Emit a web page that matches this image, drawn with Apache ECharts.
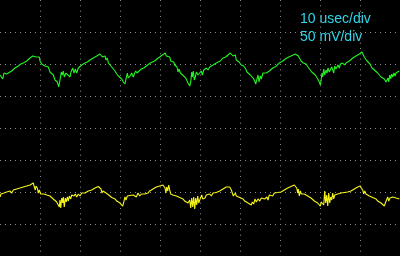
<!DOCTYPE html>
<html><head><meta charset="utf-8">
<style>html,body{margin:0;padding:0;background:#000;}#c{width:400px;height:256px;}</style>
<script src="https://cdn.jsdelivr.net/npm/echarts@6/dist/echarts.min.js"></script>
</head><body><div id="c"></div>
<script>
const timeBaseLabel = '10 usec/div';
const voltScaleLabel = '50 mV/div';

// Channel 1 (green), time in microseconds, amplitude in mV
const ch1TimeUs = [0,0.25,0.68,1.0,1.5,1.68,2.08,2.93,3.75,4.58,5.18,5.83,6.68,7.5,8.18,8.58,9.0,9.43,9.83,10.0,
10.43,10.83,11.25,11.68,12.08,12.5,12.93,13.33,13.75,14.33,14.68,15.0,15.33,15.58,15.83,16.08,16.5,16.93,17.5,17.75,
18.18,18.5,18.83,19.18,19.58,20.0,20.43,20.83,21.25,21.83,22.5,23.33,24.18,25.0,25.25,25.58,25.83,26.25,26.5,26.83,
27.08,27.5,27.93,28.33,28.75,29.18,29.58,30.0,30.43,30.83,31.25,31.5,31.83,32.08,32.5,32.93,33.33,33.68,33.93,34.25,
34.75,35.33,35.93,36.58,37.0,37.58,38.08,38.68,39.25,39.93,40.58,41.0,41.33,41.58,42.0,42.43,42.68,43.08,43.43,43.68,
43.93,44.25,44.5,44.75,45.08,45.58,45.93,46.43,46.75,47.0,47.43,47.68,47.93,48.08,48.33,48.58,48.83,49.08,49.5,49.93,
50.33,50.58,50.93,51.18,51.58,52.0,52.43,52.83,53.25,53.68,54.08,54.5,55.08,55.75,56.43,57.0,57.58,58.0,58.25,58.5,
58.83,59.08,59.5,59.75,60.08,60.33,60.58,60.93,61.43,61.75,62.25,62.58,63.08,63.43,63.68,63.93,64.25,64.5,64.75,65.08,
65.33,65.75,66.18,66.58,66.93,67.33,67.75,68.18,68.58,69.0,69.43,69.83,70.25,70.68,71.08,71.68,72.18,72.75,73.18,73.83,
74.18,74.58,74.83,75.25,75.5,75.83,76.25,76.5,76.68,76.93,77.18,77.5,77.93,78.33,78.83,79.18,79.43,79.83,80.08,80.25,
80.5,80.68,80.93,81.18,81.5,81.75,82.0,82.33,82.58,82.93,83.18,83.43,83.68,84.0,84.25,84.5,84.83,85.08,85.33,85.68,
86.08,86.5,86.93,87.33,87.75,88.18,88.58,89.0,89.43,89.83,90.25,90.5,90.83,91.08,91.33,91.5,91.75,91.93,92.18,92.5,
92.75,93.0,93.33,93.58,94.0,94.43,94.83,95.25,95.68,96.08,96.5,96.75,97.0,97.18,97.43,97.68,97.93,98.18,98.5,98.75,
99.0,99.43,99.83,100];
const ch1Mv = [82.8,85.9,76.6,85.9,87.5,84.4,87.5,89.1,93.75,96.9,100,101.6,104.7,109.4,112.5,114.1,110.9,107.8,110.9,104.7,
100,101.6,96.9,98.4,95.3,87.5,85.9,82.8,75,71.9,64.1,75,87.5,82.8,89.1,79.7,85.9,82.8,79.7,87.5,
93.75,85.9,92.2,85.9,93.75,95.3,98.4,100,101.6,103.1,106.25,109.4,112.5,115.6,117.2,110.9,107.8,112.5,106.25,109.4,
101.6,100.8,95.3,92.2,89.1,84.4,81.25,79.7,76.6,71.9,68.75,76.6,85.9,78.1,81.25,85.9,79.7,85.9,89.1,85.9,
87.5,92.2,93.75,96.9,100,101.6,103.1,104.7,107.8,110.9,114.1,115.6,117.2,112.5,109.4,110.9,104.7,101.6,103.1,98.4,
100,95.3,87.5,92.2,85.9,84.4,81.25,78.1,75,70.3,65.6,71.9,87.5,79.7,89.1,75,79.7,87.5,82.8,85.9,
89.1,82.8,90.6,87.5,93.75,90.6,95.3,93.75,98.4,100,101.6,103.1,104.7,109.4,110.9,114.1,117.2,118.75,112.5,109.4,
114.1,106.25,107.8,103.1,101.6,98.4,95.3,96.9,92.2,87.5,85.9,82.8,79.7,76.6,73.4,68.75,76.6,82.8,71.9,81.25,
76.6,85.9,82.8,85.9,87.5,89.1,92.2,93.75,95.3,96.1,98.4,101.6,102.3,104.7,106.25,109.4,110.9,112.5,114.1,115.6,
117.2,112.5,109.4,104.7,107.8,101.6,103.1,100,96.9,100,93.75,92.2,87.5,85.9,82.8,79.7,76.6,71.9,67.2,73.4,
85.9,79.7,92.2,82.8,90.6,85.9,93.75,87.5,85.9,95.3,90.6,85.9,96.9,92.2,95.3,98.4,93.75,100,96.9,101.6,
98.4,101.6,103.1,104.7,107.8,109.4,110.9,112.5,114.1,115.6,117.2,118.75,114.1,110.9,107.8,109.4,104.7,101.6,103.1,100,
96.9,93.75,95.3,90.6,87.5,85.9,82.8,79.7,78.9,76.6,71.9,70.3,78.1,71.9,82.8,76.6,84.4,79.7,85.9,81.25,
85.9,87.5,89.1,89.1];

// Channel 2 (yellow), time in microseconds, amplitude in mV
const ch2TimeUs = [0,0.25,0.68,1.0,1.33,1.68,2.08,2.5,2.93,3.33,3.75,4.18,4.58,5.0,5.43,5.83,6.25,6.68,7.08,7.5,
7.93,8.33,8.58,8.83,9.0,9.33,9.58,9.83,10.18,10.43,10.68,11.0,11.68,12.08,12.5,12.93,13.33,13.75,14.18,14.43,
14.68,14.83,15.0,15.18,15.43,15.68,15.83,16.08,16.33,16.58,16.83,17.08,17.33,17.68,17.93,18.18,18.5,18.83,19.18,19.58,
20.0,20.43,20.83,21.25,21.68,22.08,22.5,22.93,23.33,23.75,24.18,24.58,25.0,25.25,25.5,25.75,26.08,26.5,26.83,27.18,
27.5,27.93,28.33,28.75,29.18,29.58,30.0,30.43,30.68,31.0,31.25,31.5,31.83,32.18,32.5,32.93,33.33,33.68,34.08,34.5,
34.93,35.33,35.75,36.18,36.58,37.0,37.43,37.83,38.25,38.68,39.08,39.5,39.93,40.33,40.75,41.0,41.25,41.5,41.68,41.93,
42.18,42.43,42.68,42.93,43.25,43.68,44.08,44.5,44.93,45.33,45.75,46.18,46.58,47.0,47.43,47.68,47.93,48.18,48.43,48.68,
48.93,49.18,49.43,49.68,49.93,50.18,50.43,50.68,50.93,51.25,51.58,52.0,52.43,52.83,53.25,53.68,54.08,54.5,54.93,55.33,
55.75,56.18,56.58,57.0,57.43,57.83,58.08,58.33,58.58,58.83,59.08,59.5,59.93,60.33,60.75,61.18,61.58,62.0,62.43,62.83,
63.08,63.43,63.75,64.08,64.5,64.93,65.33,65.75,66.18,66.58,66.75,67.0,67.33,67.58,67.83,68.18,68.58,69.0,69.43,69.83,
70.25,70.68,71.08,71.5,71.93,72.33,72.75,73.18,73.58,73.83,74.18,74.43,74.58,74.83,75.08,75.33,75.68,76.08,76.5,76.93,
77.33,77.75,78.18,78.58,79.0,79.43,79.83,80.08,80.33,80.68,80.93,81.18,81.43,81.68,81.93,82.18,82.43,82.68,82.93,83.18,
83.43,83.68,84.0,84.43,84.83,85.25,85.68,86.08,86.5,86.93,87.33,87.75,88.18,88.58,89.0,89.43,89.83,90.08,90.33,90.68,
90.93,91.18,91.5,91.93,92.33,92.75,93.18,93.58,94.0,94.43,94.83,95.25,95.68,96.08,96.33,96.68,96.93,97.18,97.5,97.83,
98.18,98.58,99.0,99.43,99.83,100];
const ch2Mv = [-107.8,-103.1,-104.7,-101.6,-103.1,-100,-101.6,-98.4,-101.6,-96.9,-98.4,-95.3,-96.9,-93.75,-94.5,-92.2,-91.4,-90.6,-89.1,-89.1,
-87.5,-85.9,-92.2,-96.9,-90.6,-93.75,-101.6,-96.9,-103.1,-100,-101.6,-103.1,-104.7,-103.1,-106.25,-107.8,-110.9,-112.5,-115.6,-117.2,
-114.1,-123.4,-112.5,-125,-109.4,-117.2,-107.8,-123.4,-109.4,-115.6,-107.8,-114.1,-106.25,-110.9,-104.7,-107.8,-106.25,-103.1,-107.8,-103.1,
-106.25,-101.6,-104.7,-101.6,-103.1,-98.4,-100,-96.9,-95.3,-93.75,-92.2,-91.4,-90.6,-95.3,-101.6,-98.4,-100,-101.6,-102.3,-104.7,
-107.8,-108.6,-109.4,-110.9,-114.1,-115.6,-117.2,-118,-121.9,-114.1,-107.8,-112.5,-106.25,-107.8,-105.5,-106.25,-104.7,-103.1,-107.8,-101.6,
-106.25,-103.1,-101.6,-103.1,-100,-101.6,-98.4,-96.9,-95.3,-93.75,-92.2,-91.4,-90.6,-89.1,-89.1,-87.5,-93.75,-101.6,-92.2,-98.4,
-89.1,-96.9,-103.1,-100,-104.7,-103.1,-106.25,-107.8,-108.6,-109.4,-110.9,-114.1,-115.6,-117.2,-112.5,-125,-109.4,-123.4,-107.8,-126.6,
-109.4,-120.3,-106.25,-117.2,-112.5,-115.6,-104.7,-110.9,-107.8,-109.4,-104.7,-107.8,-103.1,-106.25,-101.6,-103.1,-100.8,-100,-98.4,-97.7,
-95.3,-93.75,-92.2,-90.6,-92.2,-96.9,-101.6,-106.25,-104.7,-101.6,-106.25,-107.8,-108.6,-109.4,-110.9,-114.1,-115.6,-117.2,-115.6,-120.3,
-115.6,-118.75,-110.9,-115.6,-110.9,-114.1,-109.4,-112.5,-110.9,-113.3,-107.8,-112.5,-104.7,-107.8,-103.1,-106.25,-101.6,-104.7,-100.8,-103.1,
-100,-98.4,-96.9,-95.3,-93.75,-92.2,-91.4,-90.6,-89.1,-89.1,-93.75,-101.6,-95.3,-106.25,-98.4,-103.1,-101.6,-103.1,-104.7,-106.25,
-107.8,-109.4,-110.9,-114.1,-115.6,-117.2,-118,-121.9,-115.6,-112.5,-120.3,-98.4,-117.2,-104.7,-121.9,-101.6,-117.2,-107.8,-112.5,-101.6,
-110.9,-104.7,-107.8,-103.1,-104.7,-101.6,-103.1,-100.8,-101.6,-100,-99.2,-98.4,-96.9,-95.3,-93.75,-92.2,-91.4,-90.6,-93.75,-96.9,
-103.1,-98.4,-103.1,-104.7,-106.25,-107.8,-108.6,-109.4,-110.9,-114.1,-115.6,-117.2,-118,-121.9,-117.2,-115.6,-107.8,-114.1,-109.4,-112.5,
-107.8,-110.9,-109.4,-112.5,-110.9,-110.9];

function zip(xs, ys) { return xs.map((x, i) => [x, ys[i]]); }

const chart = echarts.init(document.getElementById('c'), null, { renderer: 'canvas' });
const gridDot = '#8c8c8c';
chart.setOption({
  backgroundColor: '#000000',
  animation: false,
  grid: { left: 0, right: 0, top: 0, bottom: 0, containLabel: false },
  xAxis: {
    type: 'value', min: 0, max: 100, interval: 10,
    axisLine: { show: false }, axisTick: { show: false }, axisLabel: { show: false },
    splitLine: { show: true, showMinLine: false, showMaxLine: false,
      lineStyle: { color: gridDot, width: 1, type: [1, 4.3333] } }
  },
  yAxis: {
    type: 'value', min: -200, max: 200, interval: 50,
    axisLine: { show: false }, axisTick: { show: false }, axisLabel: { show: false },
    splitLine: { show: true, showMinLine: false, showMaxLine: false,
      lineStyle: { color: gridDot, width: 1, type: [1, 4] } }
  },
  series: [
    { name: 'CH1', type: 'line', data: zip(ch1TimeUs, ch1Mv), showSymbol: false, symbol: 'none',
      lineStyle: { color: '#22f522', width: 1.1 }, silent: true },
    { name: 'CH2', type: 'line', data: zip(ch2TimeUs, ch2Mv), showSymbol: false, symbol: 'none',
      lineStyle: { color: '#f5f51a', width: 1.1 }, silent: true }
  ],
  graphic: [
    { type: 'text', left: 300, top: 12, silent: true,
      style: { text: timeBaseLabel, fill: '#2ed6e8', font: '14px "Liberation Sans", Arial, sans-serif' } },
    { type: 'text', left: 300, top: 30, silent: true,
      style: { text: voltScaleLabel, fill: '#2ed6e8', font: '14px "Liberation Sans", Arial, sans-serif' } }
  ]
});
</script>
</body></html>
